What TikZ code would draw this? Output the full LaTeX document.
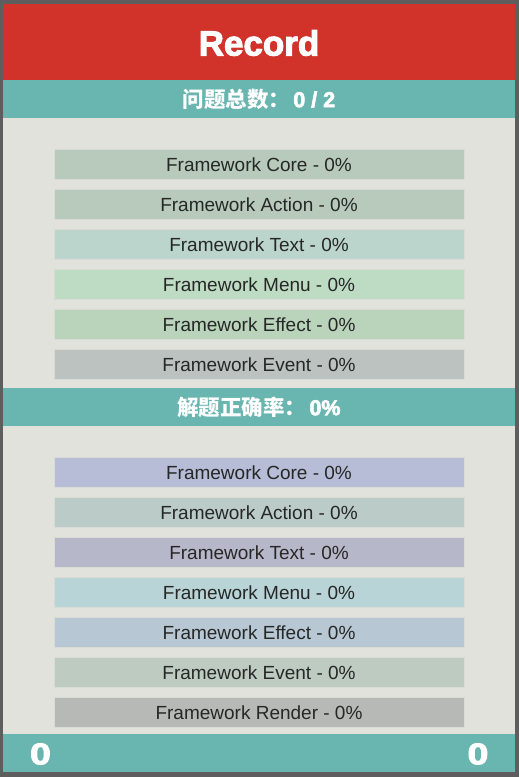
\documentclass[tikz,border=0pt]{standalone}
\usepackage{fontspec}
\setmainfont{Liberation Sans}
\newfontfamily\cjk{Noto Sans CJK SC}
\newfontfamily\heavy[FakeBold=3]{Liberation Sans Bold}
\definecolor{frame}{HTML}{5E5E5E}
\definecolor{paper}{HTML}{E2E2DD}
\definecolor{head}{HTML}{D1332B}
\definecolor{band}{HTML}{69B5B0}
\definecolor{ink}{HTML}{262827}
\definecolor{edge}{HTML}{D9DCD6}
% first list
\definecolor{cA}{HTML}{B7CABB}
\definecolor{cB}{HTML}{B8CABC}
\definecolor{cC}{HTML}{BBD5CD}
\definecolor{cD}{HTML}{BEDCC3}
\definecolor{cE}{HTML}{B9D4BA}
\definecolor{cF}{HTML}{BCC2C0}
% second list
\definecolor{dA}{HTML}{B7BCD7}
\definecolor{dB}{HTML}{BBCBC7}
\definecolor{dC}{HTML}{B6B8CA}
\definecolor{dD}{HTML}{B9D4D7}
\definecolor{dE}{HTML}{B7C8D4}
\definecolor{dF}{HTML}{BDCBC0}
\definecolor{dG}{HTML}{B6B9B6}

\tikzset{
    bar/.style={draw=edge, line width=1pt, minimum width=410pt, minimum height=30pt,
        inner sep=0pt, text=ink, font=\fontsize{19}{20}\selectfont},
    bandtext/.style={text=white, font=\cjk\bfseries\fontsize{21.5}{22}\selectfont}
}

\begin{document}
\begin{tikzpicture}[x=1pt, y=-1pt]
    \useasboundingbox (0, 0) rectangle (519, 777);

    % Frame and page
    \fill[frame] (0, 0) rectangle (519, 777);
    \fill[paper] (3, 4) rectangle (515, 772);

    % Title
    \fill[head] (3, 4) rectangle (515, 80);
    \node[text=white, font=\heavy\fontsize{35}{36}\selectfont] (title) at (259, 43) {Record};

    % Question count
    \fill[band] (3, 80) rectangle (515, 118);
    \node[bandtext] (count) at (259, 99) {问题总数：\hspace{3pt}{\heavy 0 / 2}};

    \foreach \name/\col [count=\i] in {Core/cA, Action/cB, Text/cC, Menu/cD, Effect/cE, Event/cF}
        \node[bar, fill=\col] (first\i) at (259, 124.5+40*\i) {Framework \name{} - 0\%};

    % Correct rate
    \fill[band] (3, 388) rectangle (515, 426);
    \node[bandtext] (rate) at (259, 407) {解题正确率：\hspace{3pt}{\heavy 0\%}};

    \foreach \name/\col [count=\i] in {Core/dA, Action/dB, Text/dC, Menu/dD, Effect/dE, Event/dF, Render/dG}
        \node[bar, fill=\col] (second\i) at (259, 432.5+40*\i) {Framework \name{} - 0\%};

    % Footer
    \fill[band] (3, 734) rectangle (515, 772);
    \node[text=white, font=\heavy\fontsize{30}{30}\selectfont, xscale=1.25] (left) at (40.5, 754) {0};
    \node[text=white, font=\heavy\fontsize{30}{30}\selectfont, xscale=1.25] (right) at (478, 754) {0};
\end{tikzpicture}
\end{document}
